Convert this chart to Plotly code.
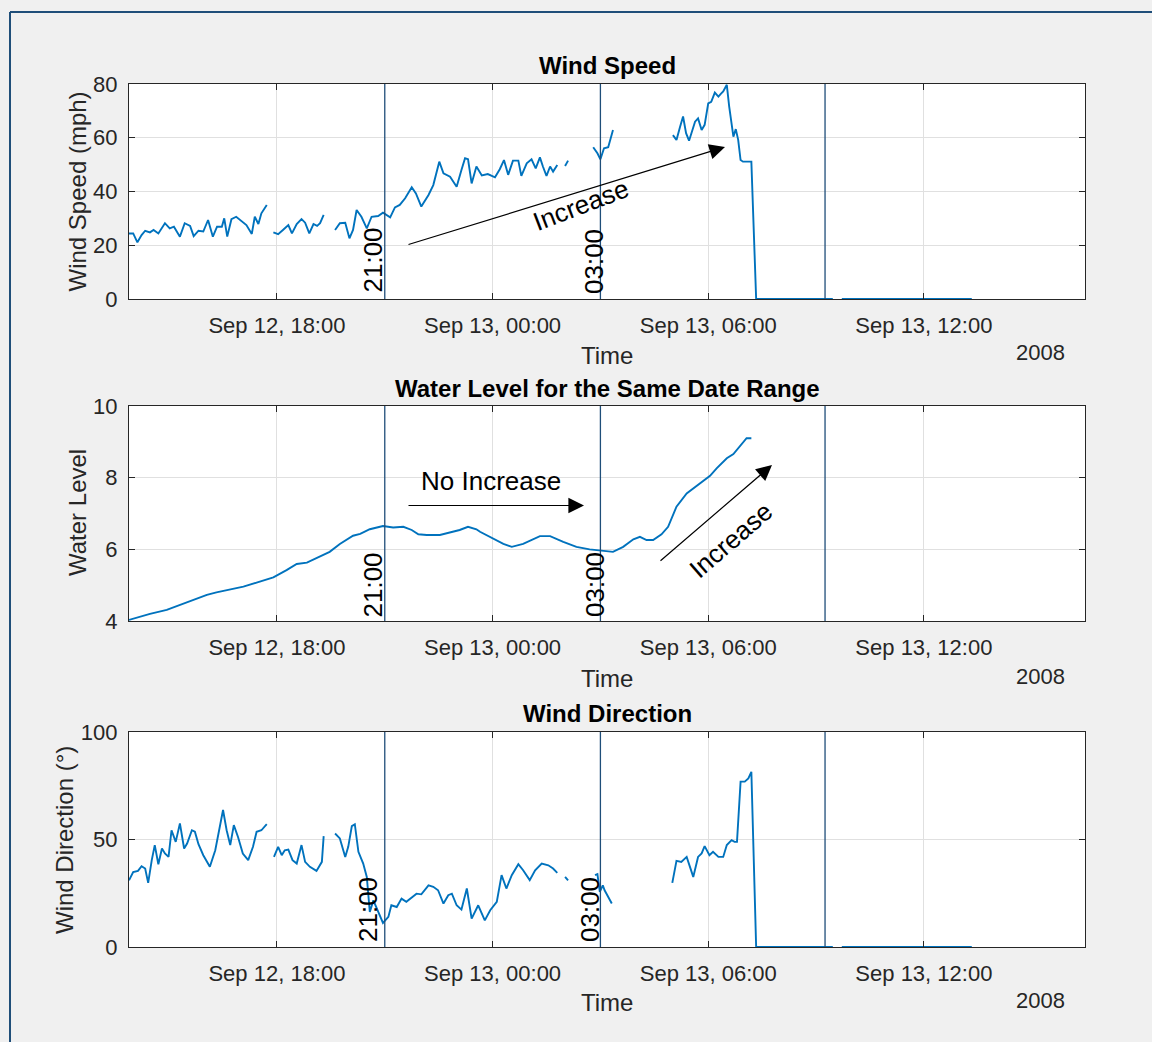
import datetime as dt
import plotly.graph_objects as go

# ---------------- data (minutes after 2008-09-12 12:00, None = gap) ----------------
BASE = dt.datetime(2008, 9, 12, 12, 0)

ws_t = [113, 120, 127, 134, 140, 148, 154, 162, 173, 181, 188, 198, 206, 215, 221, 229, 237, 245, 253, 260,
        268, 272, 277, 284, 292, 298, 309, 318, 323, 329, 334, 343, None,
        354, 362, 370, 379, 385, 393, 401, 407, 414, 421, 427, 432, 438, None,
        457, 465, 474, 481, 487, 493, 501, 510, 518, 529, 537, 549, 557, 565, 574, 585, 592, 601, 613, 621,
        631, 638, 649, 660, 668, 674, 679, 685, 693, 702, 712, 724, 732, 739, 746, 754, 763, 768, 777,
        785, 792, 799, 804, 810, 816, 821, 828, None,
        841, 846, None,
        888, 895, 900, 906, 913, 917, 921, None,
        1021, 1027, 1033, 1038, 1043, 1048, 1058, 1063, 1069, 1074, 1080, 1085, 1091, 1097, 1101, 1105,
        1111, 1115, 1122, 1126, 1130, 1134, 1138, 1147, 1152, 1160, 1288, None,
        1303, 1520]
ws_v = [24.4, 24.4, 21.1, 23.8, 25.4, 24.8, 25.7, 24.4, 28.2, 26.3, 26.9, 23.2, 28.2, 27.2, 23.4, 25.4, 25.1, 29.4, 23.2, 26.9,
        26.9, 30, 23.2, 29.7, 30.6, 29.4, 27.5, 24.2, 30.6, 27.9, 31.9, 35, None,
        24.8, 24.1, 25.7, 27.5, 24.4, 27.9, 29.7, 28.4, 24.4, 27.9, 27.2, 28.2, 31.3, None,
        25.7, 28.2, 28.4, 22.6, 25.7, 33.1, 30.6, 26.3, 30.6, 30.9, 32.1, 30.4, 34.1, 35, 37.5, 41.6, 39.3, 34.4, 38.7, 42.4,
        51.1, 46.8, 45.5, 41.8, 48, 52.4, 52, 43, 49.3, 46, 46.5, 45.3, 48.3, 51.7, 46.2, 51.5, 51.5, 45.8, 50.5,
        52, 48.6, 52.7, 49.3, 45.8, 49.3, 47.4, 49.9, None,
        49.5, 51.5, None,
        56.5, 54.2, 52, 56.1, 56.5, 59.8, 62.9, None,
        61, 59.2, 64.1, 67.9, 61.7, 58.9, 66, 67.2, 62.9, 64.8, 72.8, 73.4, 76.8, 75.3, 76.3, 77.2,
        79.7, 71.6, 60.4, 63.2, 59.2, 51.7, 51.1, 51.1, 51.1, 0, 0, None,
        0, 0]

wl_t = [113, 148, 176, 198, 220, 243, 259, 282, 304, 326, 354, 376, 393, 410, 426, 448, 465, 487, 499, 515,
        537, 554, 571, 585, 596, 610, 632, 649, 665, 679, 693,
        699, 721, 738, 752, 771, 799, 816, 838, 860, 882, 905, 921, 938, 955, 966, 977, 988, 1002, 1013,
        1027, 1044, 1066, 1083, 1094, 1111, 1122, 1133, 1144, 1152]
wl_v = [4.03, 4.2, 4.31, 4.45, 4.6, 4.73, 4.8, 4.89, 4.96, 5.07, 5.22, 5.42, 5.59, 5.63, 5.75, 5.93, 6.15, 6.38, 6.43, 6.56,
        6.65, 6.61, 6.63, 6.54, 6.42, 6.4, 6.4, 6.47, 6.54, 6.63, 6.56,
        6.49, 6.31, 6.15, 6.07, 6.15, 6.37, 6.37, 6.21, 6.07, 6.0, 5.95, 5.93, 6.07, 6.28, 6.35, 6.26, 6.26, 6.42, 6.63,
        7.19, 7.56, 7.84, 8.05, 8.26, 8.54, 8.66, 8.88, 9.1, 9.1]

wd_t = [113, 120, 128, 134, 140, 145, 151, 156, 162, 168, 173, 179, 184, 191, 198, 205, 210, 218, 223, 229,
        237, 248, 257, 262, 270, 276, 282, 288, 295, 303, 312, 320, 326, 334, 343, None,
        355, 362, 368, 373, 379, 386, 393, 401, 407, 415, 426, 435, 438, None,
        457, 465, 474, 479, 485, 490, 496, 504, 510, 515, 521, 529, 537, 546, 551, 560, 568, 576, 585, 593,
        601, 613, 621, 629, 638, 646, 652, 660, 668, 677, 685, 696, 707, 716, 727, 735, 743, 752, 763, 771,
        782, 791, 802, 813, 821, 828, None,
        841, 846, None,
        891, 895, 899, 904, 907, 913, 919, None,
        1020, 1027, 1035, 1044, 1055, 1063, 1069, 1074, 1082, 1088, 1097, 1105, 1111, 1119, 1124, 1128,
        1134, 1141, 1147, 1152, 1160, 1288, None,
        1303, 1520]
wd_v = [31, 34.9, 35.4, 37.6, 36.5, 29.8, 40.4, 47.4, 38.5, 45.8, 43.5, 41.9, 54.3, 48.9, 57.5, 45.8, 48.1, 54.3, 53.6, 47.8,
        42.7, 37.3, 45, 52, 63.7, 54.3, 47.4, 56.7, 51.2, 43.5, 40.4, 46.6, 53.6, 54.3, 57.1, None,
        41.9, 46.6, 42.7, 45, 45.3, 40.4, 38.8, 47.4, 39.6, 37.3, 35.4, 39.6, 51.6, None,
        52.8, 50.5, 41.9, 46.6, 56.2, 57.1, 44.3, 38.8, 32.6, 16.3, 21.7, 16.3, 11.2, 14, 19.4, 18.6, 22.5, 21, 23, 24.8,
        24.5, 28.7, 28, 26.4, 20.2, 24.1, 24.8, 19.4, 17.4, 27.2, 13.2, 19.4, 12.4, 17.1, 21, 33.4, 27.2, 33.4, 38.5, 35.7,
        31.1, 35.7, 38.8, 38, 36.5, 34.5, None,
        32.6, 31, None,
        33.4, 33.9, 25.6, 28.7, 26.4, 23.3, 20.2, None,
        29.8, 40.1, 39.6, 41.9, 32.6, 41.9, 43.5, 46.9, 42.7, 44.3, 41.9, 41.9, 47.4, 49.7, 48.9, 48.9,
        76.9, 76.9, 78.4, 81.5, 0, 0, None,
        0, 0]

x_range_min = [113, 1709]
x_tick_min = [360, 720, 1080, 1440]
x_tick_text = ["Sep 12, 18:00", "Sep 13, 00:00", "Sep 13, 06:00", "Sep 13, 12:00"]
marker_min = [540, 900, 1275]
marker_text = ["21:00", "03:00"]

titles = ["Wind Speed", "Water Level for the Same Date Range", "Wind Direction"]
ylabels = ["Wind Speed (mph)", "Water Level", "Wind Direction (°)"]
y_ranges = [[0, 80], [4, 10], [0, 100]]
y_ticks = [[0, 20, 40, 60, 80], [4, 6, 8, 10], [0, 50, 100]]


def to_dt(mins):
    return [BASE + dt.timedelta(minutes=m) if m is not None else None for m in mins]


# ---------------- layout helpers ----------------
W, H = 1152, 1042
FONT = "Liberation Sans, Arial, Helvetica, sans-serif"
AXC = "#262626"
LINEC = "#0072BD"
MARKC = "#1f4e79"
TICK_FS = 22
LABEL_FS = 24
TITLE_FS = 24


def fx(p):
    return p / W


def fy(p):
    return 1 - p / H


xdom = [fx(129), fx(1085)]
ydoms = [[fy(299), fy(84)], [fy(621), fy(406)], [fy(947), fy(732)]]

fig = go.Figure()
series = [(ws_t, ws_v), (wl_t, wl_v), (wd_t, wd_v)]
for i, (t, v) in enumerate(series):
    fig.add_trace(go.Scatter(x=to_dt(t), y=v, mode="lines",
                             line=dict(color=LINEC, width=1.9),
                             xaxis="x" if i == 0 else f"x{i+1}",
                             yaxis="y" if i == 0 else f"y{i+1}",
                             showlegend=False, hoverinfo="skip"))

layout = dict(width=W, height=H, margin=dict(l=0, r=0, t=0, b=0),
              paper_bgcolor="#f0f0f0", plot_bgcolor="white",
              font=dict(family=FONT, color=AXC), showlegend=False)

xrng = to_dt(x_range_min)
for i in range(3):
    sx = "" if i == 0 else str(i + 1)
    layout["xaxis" + sx] = dict(
        domain=xdom, anchor="y" + sx, type="date", range=xrng,
        tickmode="array", tickvals=to_dt(x_tick_min), ticktext=x_tick_text,
        tickfont=dict(size=TICK_FS, color=AXC, family=FONT),
        showgrid=True, gridcolor="#e0e0e0", gridwidth=1, zeroline=False,
        showline=True, linecolor=AXC, linewidth=1.3, mirror="ticks",
        ticks="inside", ticklen=6, tickwidth=1.3, tickcolor=AXC,
        ticklabelstandoff=6, automargin=False, fixedrange=True)
    layout["yaxis" + sx] = dict(
        domain=ydoms[i], anchor="x" + sx, range=y_ranges[i],
        tickmode="array", tickvals=y_ticks[i],
        tickfont=dict(size=TICK_FS, color=AXC, family=FONT),
        showgrid=True, gridcolor="#e0e0e0", gridwidth=1, zeroline=False,
        showline=True, linecolor=AXC, linewidth=1.3, mirror="ticks",
        ticks="inside", ticklen=6, tickwidth=1.3, tickcolor=AXC,
        ticklabelstandoff=6, automargin=False, fixedrange=True)

fig.update_layout(**layout)

shapes = []
# figure border (left and top)
shapes.append(dict(type="line", xref="paper", yref="paper", x0=fx(10), x1=fx(10), y0=0, y1=fy(12),
                   line=dict(color=MARKC, width=2)))
shapes.append(dict(type="line", xref="paper", yref="paper", x0=fx(10), x1=1, y0=fy(12), y1=fy(12),
                   line=dict(color=MARKC, width=2)))
marker_dt = to_dt(marker_min)
for i in range(3):
    sx = "" if i == 0 else str(i + 1)
    for m in marker_dt:
        shapes.append(dict(type="line", xref="x" + sx, yref=f"y{sx} domain", x0=m, x1=m, y0=0, y1=1,
                           line=dict(color=MARKC, width=1.3), layer="above"))

ann = []
label_y = [355, 678, 1002]
title_y = [66, 388, 713]
ylab_pos = [(77, 191.5), (77, 513), (64, 840)]
for i in range(3):
    ann.append(dict(text=f"<b>{titles[i]}</b>", x=fx(607), y=fy(title_y[i]), xref="paper", yref="paper",
                    xanchor="center", yanchor="middle", showarrow=False,
                    font=dict(size=TITLE_FS, color="black", family=FONT)))
    ann.append(dict(text="Time", x=fx(607), y=fy(label_y[i]), xref="paper", yref="paper",
                    xanchor="center", yanchor="middle", showarrow=False,
                    font=dict(size=LABEL_FS, color=AXC, family=FONT)))
    ann.append(dict(text="2008", x=fx(1067), y=fy(label_y[i] - 2), xref="paper", yref="paper",
                    xanchor="right", yanchor="middle", showarrow=False,
                    font=dict(size=TICK_FS, color=AXC, family=FONT)))
    ann.append(dict(text=ylabels[i], x=fx(ylab_pos[i][0]), y=fy(ylab_pos[i][1]), xref="paper", yref="paper",
                    xanchor="center", yanchor="middle", showarrow=False, textangle=-90,
                    font=dict(size=LABEL_FS, color=AXC, family=FONT)))

# rotated time markers
mark_pos = [[(372.5, 260), (593.5, 261.5)], [(372.5, 585), (595, 585)], [(368, 910), (590, 910)]]
for i in range(3):
    for j, txt in enumerate(marker_text):
        px_, py_ = mark_pos[i][j]
        ann.append(dict(text=txt, x=fx(px_), y=fy(py_), xref="paper", yref="paper",
                        xanchor="center", yanchor="middle", showarrow=False, textangle=-90,
                        font=dict(size=26, color="black", family=FONT)))

# callout texts
ann.append(dict(text="Increase", x=fx(581), y=fy(205), xref="paper", yref="paper", showarrow=False,
                xanchor="center", yanchor="middle",
                textangle=-21, font=dict(size=26, color="black", family=FONT)))
ann.append(dict(text="No Increase", x=fx(491), y=fy(481), xref="paper", yref="paper", showarrow=False,
                xanchor="center", yanchor="middle",
                font=dict(size=26, color="black", family=FONT)))
ann.append(dict(text="Increase", x=fx(731), y=fy(540), xref="paper", yref="paper", showarrow=False,
                xanchor="center", yanchor="middle",
                textangle=-41, font=dict(size=26, color="black", family=FONT)))

# arrows: (tip, tail)
arrows = [((725, 147), (407, 245)), ((584, 505.5), (407, 505.5)), ((772, 465), (659, 562))]
for (tx, ty), (sx_, sy_) in arrows:
    ann.append(dict(text="", x=fx(tx), y=fy(ty), xref="paper", yref="paper",
                    ax=sx_ - tx, ay=sy_ - ty, axref="pixel", ayref="pixel",
                    showarrow=True, arrowhead=2, arrowsize=2.6, arrowwidth=1.2,
                    arrowcolor="black", standoff=0))

fig.update_layout(shapes=shapes, annotations=ann)
fig.write_html("out.html", config={"displayModeBar": False},
               post_script="document.body.style.margin='0px';")
